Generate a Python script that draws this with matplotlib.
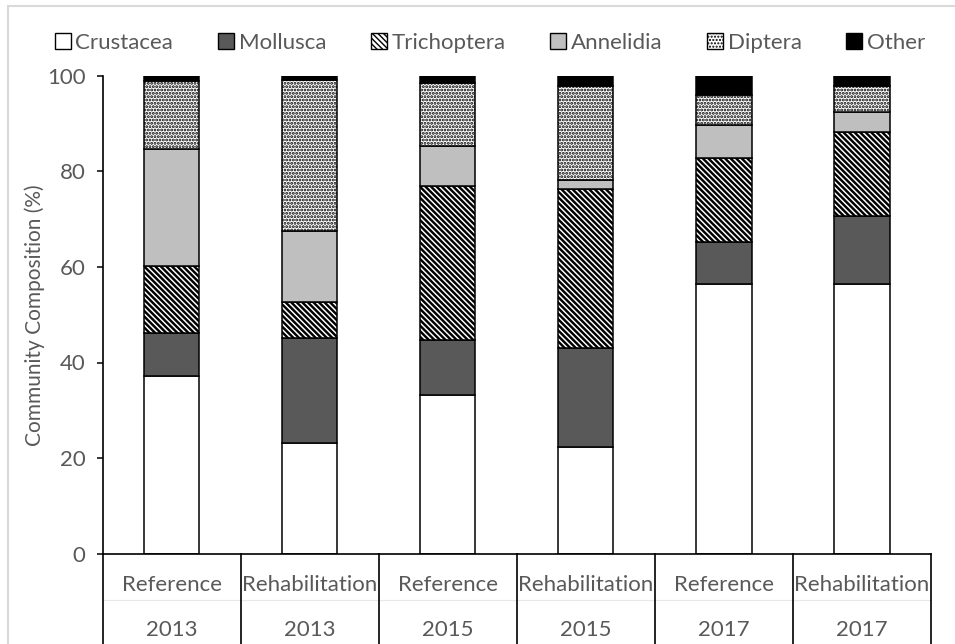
import matplotlib
matplotlib.use("Agg")
import matplotlib.pyplot as plt
from matplotlib.patches import Patch, Rectangle
from matplotlib.transforms import blended_transform_factory
import numpy as np

groups = ["Reference", "Rehabilitation", "Reference", "Rehabilitation", "Reference", "Rehabilitation"]
years = ["2013", "2013", "2015", "2015", "2017", "2017"]
taxa = ["Crustacea", "Mollusca", "Trichoptera", "Annelidia", "Diptera", "Other"]

crustacea   = [37.1, 23.1, 33.1, 22.3, 56.4, 56.4]
mollusca    = [9.0, 22.0, 11.7, 20.8, 8.9, 14.3]
trichoptera = [14.1, 7.5, 32.2, 33.1, 17.4, 17.6]
annelidia   = [24.5, 14.9, 8.3, 2.0, 7.0, 4.2]
diptera     = [14.1, 31.5, 13.2, 19.7, 6.2, 5.3]
other       = [1.2, 1.0, 1.5, 2.1, 4.1, 2.2]

yticks = [0, 20, 40, 60, 80, 100]

series = [crustacea, mollusca, trichoptera, annelidia, diptera, other]
styles = [
    dict(facecolor="white", hatch=None),
    dict(facecolor="#595959", hatch=None),
    dict(facecolor="white", hatch="\\" * 6),
    dict(facecolor="#BFBFBF", hatch=None),
    dict(facecolor="white", hatch="." * 5),
    dict(facecolor="black", hatch=None),
]
hatch_lw = [1.0, 1.0, 1.75, 1.0, 1.4, 1.0]

FS = 16
TXT = "#595959"
plt.rcParams["font.family"] = ["Lato", "DejaVu Sans"]

fig = plt.figure(figsize=(9.55, 6.44), dpi=100)
W, H = 955, 644
ax = fig.add_axes([102.7 / W, 1 - 553.7 / H, (931 - 102.7) / W, (553.7 - 75.7) / H])

x = np.arange(len(groups))
bottom = np.zeros(len(groups))
handles = []
for name, vals, st, hl in zip(taxa, series, styles, hatch_lw):
    plt.rcParams["hatch.linewidth"] = hl
    bars = ax.bar(x, vals, width=0.4, bottom=bottom, color=st["facecolor"],
                  edgecolor="black", linewidth=1.1, hatch=st["hatch"], zorder=2)
    for b in bars:
        if hasattr(b, "set_hatch_linewidth"):
            b.set_hatch_linewidth(hl)
    bottom += np.array(vals)
    hp = Patch(facecolor=st["facecolor"], edgecolor="black", linewidth=1.0,
               hatch=st["hatch"], label=name)
    if hasattr(hp, "set_hatch_linewidth"):
        hp.set_hatch_linewidth(hl)
    handles.append(hp)

ax.set_xlim(-0.5, len(groups) - 0.5)
ax.set_ylim(0, 100)
ax.set_yticks(yticks)
ax.set_yticklabels([str(t) for t in yticks])
ax.tick_params(axis="y", direction="out", length=4.5, width=1.1, color="black",
               labelsize=FS, labelcolor=TXT, pad=8)
ax.set_xticks([])
for s in ["top", "right"]:
    ax.spines[s].set_visible(False)
for s in ["left", "bottom"]:
    ax.spines[s].set_linewidth(1.2)
    ax.spines[s].set_color("black")

fig.text(35 / W, 1 - 315.5 / H, "Community Composition (%)", rotation=90,
         ha="center", va="center", fontsize=15, color=TXT)

trans = blended_transform_factory(ax.transData, ax.transAxes)
ah = 553.7 - 75.7
for b in np.arange(-0.5, len(groups), 1.0):
    ax.plot([b, b], [0, -(H - 553.7 + 5) / ah], transform=trans, color="black",
            lw=1.2, clip_on=False, zorder=3)
ax.plot([-0.5, len(groups) - 0.5], [-(600 - 553.7) / ah] * 2, transform=trans,
        color="#E8E8E8", lw=0.8, clip_on=False, zorder=1)
for xi, g, yv in zip(x, groups, years):
    ax.text(xi, -(585 - 553.7) / ah, g, transform=trans, ha="center", va="center",
            fontsize=FS, color=TXT)
    ax.text(xi, -(630 - 553.7) / ah, yv, transform=trans, ha="center", va="center",
            fontsize=FS, color=TXT)

leg = fig.legend(handles=handles, loc="center", bbox_to_anchor=(490 / W, 1 - 43 / H),
                 ncol=6, frameon=False, fontsize=FS, handlelength=0.72, handleheight=0.72,
                 handletextpad=0.22, columnspacing=2.0, borderaxespad=0)
for t in leg.get_texts():
    t.set_color(TXT)

fig.patches.append(Rectangle((8 / W, -0.1), 1.2, 1.1 - 6 / H, transform=fig.transFigure,
                             fill=False, edgecolor="#D9D9D9", linewidth=1.5, zorder=0))

fig.savefig("out.png", dpi=100)
